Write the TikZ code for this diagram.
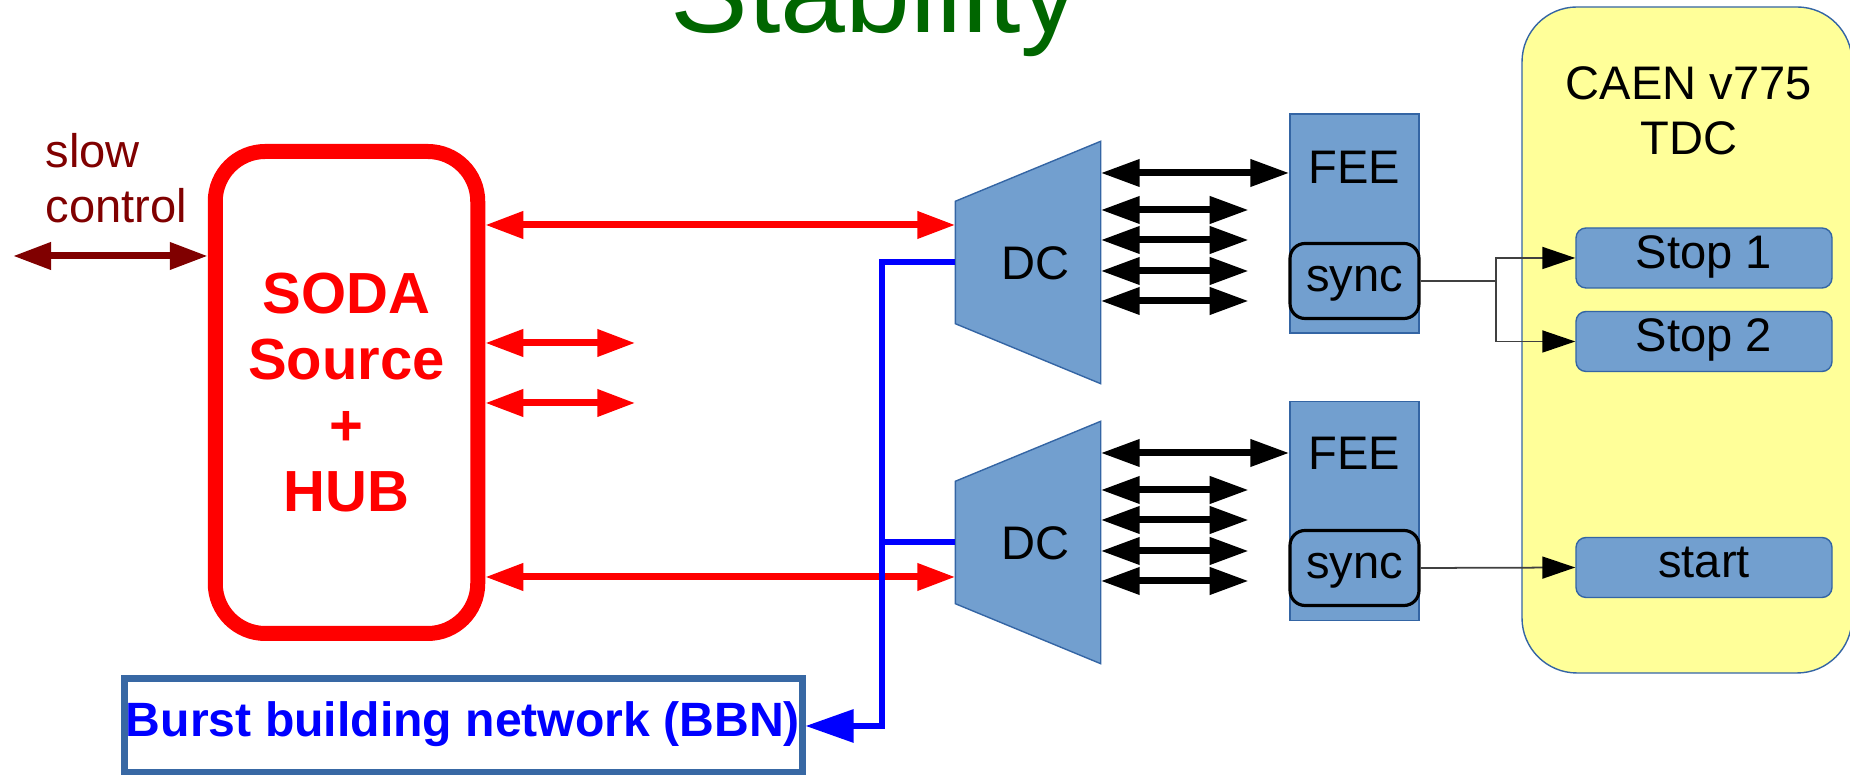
\documentclass[tikz,border=0pt]{standalone}
\usepackage{fontspec}
\setmainfont{Liberation Sans}
\usetikzlibrary{arrows.meta,positioning}
\definecolor{sodared}{RGB}{255,0,0}
\definecolor{slowred}{RGB}{128,0,0}
\definecolor{bbnblue}{RGB}{0,0,255}
\definecolor{bbnedge}{RGB}{56,104,164}
\definecolor{dcblue}{RGB}{114,159,207}
\definecolor{dcedge}{RGB}{52,101,164}
\definecolor{tdcyellow}{RGB}{255,255,153}
\definecolor{titlegreen}{RGB}{0,102,0}
\begin{document}
\begin{tikzpicture}[font=\fontsize{13.4}{15.6}\selectfont,
    txt/.style = {inner sep=0, text height=0.8em, text depth=0.21em},
    hubbox/.style = {draw=sodared, line width=0.15cm, rounded corners=0.5cm, minimum width=2.625cm, minimum height=4.82cm, align=center, text=sodared, font=\fontsize{16.5}{18.8}\selectfont\bfseries},
    dc/.style = {minimum width=1.44cm, minimum height=2.41cm, inner sep=0},
    dcshape/.style = {fill=dcblue, draw=dcedge, line width=0.4pt},
    fee/.style = {fill=dcblue, draw=dcedge, line width=0.4pt, minimum width=1.29cm, minimum height=2.19cm},
    syncbox/.style = {txt, draw=black, line width=0.9pt, fill=dcblue, rounded corners=0.15cm, minimum width=1.29cm, minimum height=0.75cm},
    tdcin/.style = {txt, fill=dcblue, draw=dcedge, line width=0.4pt, rounded corners=0.1cm, minimum width=2.56cm, minimum height=0.6cm},
    slowlink/.style = {line width=0.07cm, slowred, {Triangle[length=3.8mm,width=2.6mm]}-{Triangle[length=3.8mm,width=2.6mm]}},
    link/.style = {line width=0.07cm, sodared, {Triangle[length=3.8mm,width=2.6mm]}-{Triangle[length=3.8mm,width=2.6mm]}},
    data/.style = {line width=0.07cm, black, {Triangle[length=3.9mm,width=2.6mm]}-{Triangle[length=3.9mm,width=2.6mm]}},
    busline/.style = {line width=0.06cm, bbnblue},
    sig/.style = {black!75, line width=0.5pt, -{Triangle[length=3.3mm,width=2.2mm,color=black]}}]
    \useasboundingbox (0,0) rectangle (18.5,-7.75);

    \node[anchor=base west, titlegreen, font=\fontsize{33.2}{36}\selectfont, inner sep=0] (title) at (6.70,-0.33) {Stability};

    \node[fill=tdcyellow, draw=dcedge, line width=0.4pt, rounded corners=0.55cm, minimum width=3.3cm, minimum height=6.66cm] (tdc) at (16.87,-3.40) {};
    \node[anchor=north, align=center, inner sep=0] (tdctxt) at (16.89,-0.66) {CAEN v775\\TDC};
    \node[tdcin] (stop1) at (17.04,-2.58) {Stop 1};
    \node[tdcin] (stop2) at (17.04,-3.415) {Stop 2};
    \node[tdcin] (start) at (17.04,-5.675) {start};

    \node[anchor=north west, align=left, slowred, inner sep=0] (slow) at (0.45,-1.33) {slow\\control};
    \node[hubbox] (hub) at (3.465,-3.925) {SODA\\Source\\+\\HUB};
    \coordinate (sc) at (0.13,-2.56);
    \draw[slowlink] (sc) -- (hub.west |- sc);

    \node[dc] (dc1) at (10.28,-2.625) {};
    \node[dc] (dc2) at (10.28,-5.425) {};
    \foreach \d in {dc1,dc2}
        \filldraw[dcshape] (\d.north east) -- (\d.south east) -- ([yshift=0.6cm]\d.south west) -- ([yshift=-0.6cm]\d.north west) -- cycle;
    \node[txt] (dc1txt) at (10.355,-2.69) {DC};
    \node[txt] (dc2txt) at (10.355,-5.49) {DC};

    \draw[link] (hub.east |- 0,-2.25) -- (dc1.west |- 0,-2.25);
    \draw[link] (hub.east |- 0,-5.77) -- (dc2.west |- 0,-5.77);
    \draw[link] (hub.east |- 0,-3.43) -- ++(1.50,0);
    \draw[link] (hub.east |- 0,-4.03) -- ++(1.50,0);

    \node[draw=bbnedge, line width=0.07cm, minimum width=6.78cm, minimum height=0.94cm, txt, text=bbnblue, font=\fontsize{13.7}{15.6}\selectfont\bfseries] (bbn) at (4.63,-7.26) {Burst building network (BBN)};
    \coordinate (bus) at (8.82,-7.26);
    \draw[busline, -{Triangle[length=4.8mm,width=3.2mm]}] (dc1.west) -| (bus) -- (bbn.east);
    \draw[busline] (bus |- dc2.west) -- (dc2.west);

    \node[fee] (fee1) at (13.545,-2.235) {};
    \node[fee] (fee2) at (13.545,-5.11) {};
    \node[txt] (fee1txt) at (13.545,-1.73) {FEE};
    \node[txt] (fee2txt) at (13.545,-4.59) {FEE};
    \node[syncbox] (sync1) at (13.545,-2.81) {sync};
    \node[syncbox] (sync2) at (13.545,-5.68) {sync};

    \foreach \d/\f in {dc1/fee1,dc2/fee2} {
        \coordinate (top) at ([yshift=0.895cm]\d.east);
        \draw[data] (top) -- (top -| \f.west);
        \foreach \o in {0.525,0.225,-0.085,-0.385}
            \draw[data] ([yshift=\o cm]\d.east) -- ++(1.48,0);
    }

    \draw[sig] (sync1.east) -| ([xshift=-0.79cm]stop1.west) -- (stop1.west);
    \draw[sig] (sync1.east) -| ([xshift=-0.79cm]stop2.west) -- (stop2.west);
    \draw[sig] (sync2.east) -- (start.west);
\end{tikzpicture}
\end{document}
